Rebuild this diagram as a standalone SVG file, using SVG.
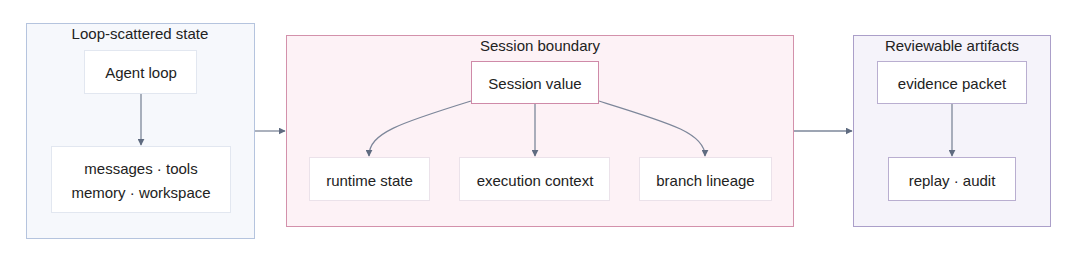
<svg xmlns="http://www.w3.org/2000/svg" width="1080" height="266" viewBox="0 0 1080 266">
<defs>
<marker id="ah" viewBox="0 0 10 10" refX="9" refY="5" markerWidth="7" markerHeight="7" markerUnits="userSpaceOnUse" orient="auto">
<path d="M0,0 L10,5 L0,10 z" fill="#5f6b80"/>
</marker>
<style>
text{font-family:"Liberation Sans",Arial,sans-serif;font-size:15px;fill:#222;text-anchor:middle;dominant-baseline:central}
.edge{fill:none;stroke:#7d879a;stroke-width:1.3;marker-end:url(#ah)}
.n{fill:#fff;stroke-width:1}
</style>
</defs>
<rect width="1080" height="266" fill="#fff"/>
<g id="cluster-loop">
<rect x="26.5" y="23.5" width="228" height="215" fill="#f6f8fc" stroke="#b5c4de"/>
<text x="140" y="33">Loop-scattered state</text>
</g>
<g id="cluster-session">
<rect x="286.5" y="35.5" width="507" height="191" fill="#fdf2f6" stroke="#d391ab"/>
<text x="540" y="45">Session boundary</text>
</g>
<g id="cluster-review">
<rect x="853.5" y="35.5" width="197" height="191" fill="#f5f3fa" stroke="#ab9fc9"/>
<text x="952" y="45">Reviewable artifacts</text>
</g>
<g id="connectors">
<path class="edge" d="M141,93 V145"/>
<path class="edge" d="M255,131 H285"/>
<path class="edge" d="M471,101 C400,123 369,133 369,156"/>
<path class="edge" d="M535,104 V156"/>
<path class="edge" d="M599,101 C670,123 705,133 705,156"/>
<path class="edge" d="M794,131 H852"/>
<path class="edge" d="M952,104 V156"/>
</g>
<g id="agent-loop">
<rect class="n" x="84.5" y="50.5" width="112" height="43" stroke="#e2e7f0"/>
<text x="141" y="72">Agent loop</text>
</g>
<g id="state-list">
<rect class="n" x="51.5" y="146.5" width="179" height="66" stroke="#e2e7f0"/>
<text x="141" y="168">messages · tools</text>
<text x="141" y="192">memory · workspace</text>
</g>
<g id="session-value">
<rect class="n" x="471.5" y="61.5" width="127" height="42" stroke="#cf8aa8"/>
<text x="535" y="83">Session value</text>
</g>
<g id="runtime-state">
<rect class="n" x="309.5" y="157.5" width="120" height="43" stroke="#ebe2ea"/>
<text x="369.5" y="180">runtime state</text>
</g>
<g id="execution-context">
<rect class="n" x="459.5" y="157.5" width="150" height="43" stroke="#ebe2ea"/>
<text x="535" y="180">execution context</text>
</g>
<g id="branch-lineage">
<rect class="n" x="639.5" y="157.5" width="132" height="43" stroke="#ebe2ea"/>
<text x="705.5" y="180">branch lineage</text>
</g>
<g id="evidence-packet">
<rect class="n" x="877.5" y="61.5" width="149" height="42" stroke="#b9aed0"/>
<text x="952" y="83">evidence packet</text>
</g>
<g id="replay-audit">
<rect class="n" x="888.5" y="157.5" width="127" height="43" stroke="#b9aed0"/>
<text x="952" y="180">replay · audit</text>
</g>
</svg>
